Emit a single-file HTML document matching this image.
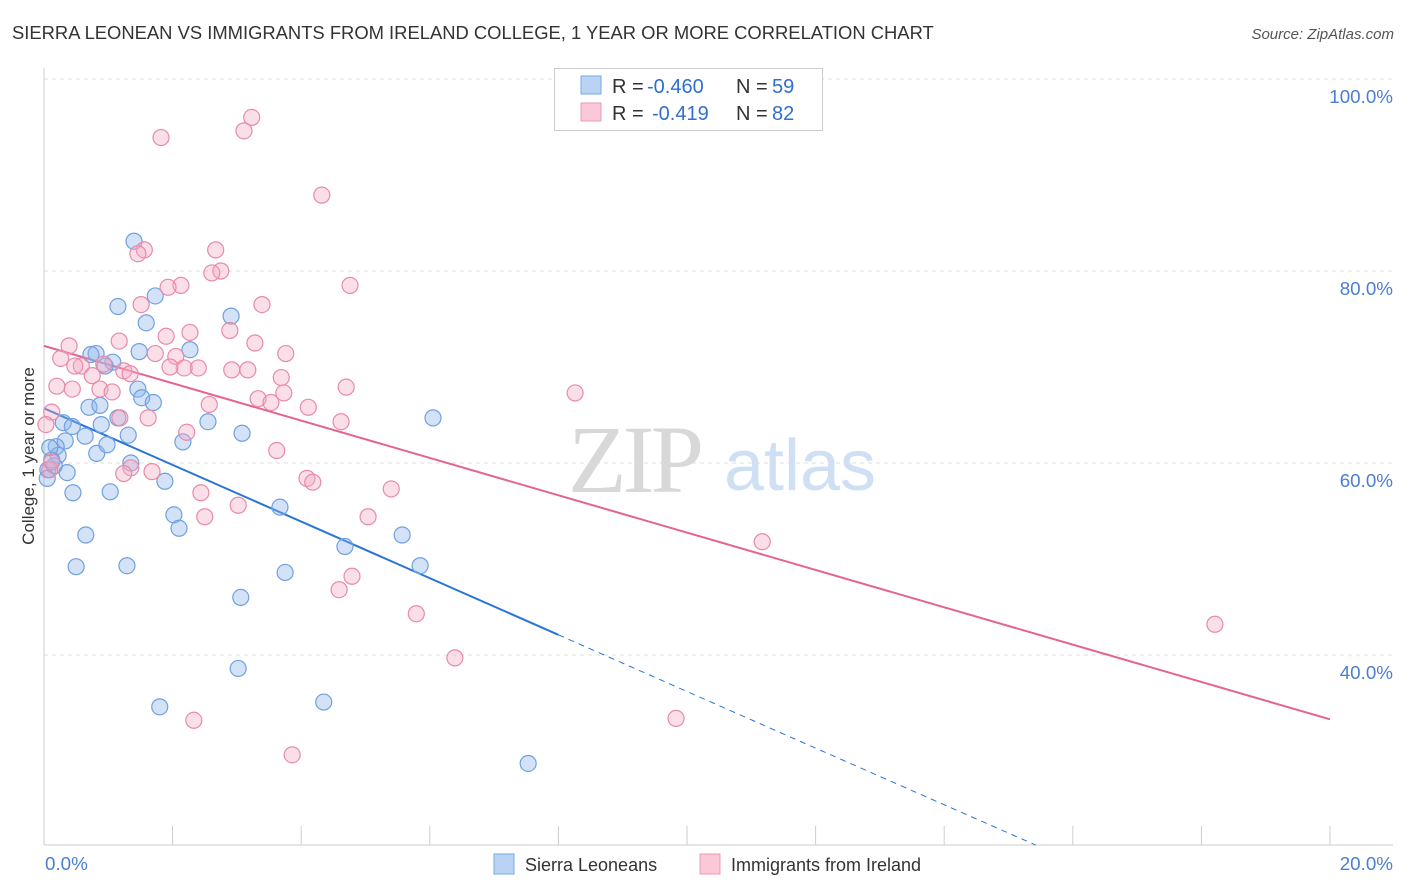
<!DOCTYPE html>
<html><head><meta charset="utf-8"><style>
body{margin:0;background:#fff;font-family:"Liberation Sans",sans-serif;}
svg{display:block}
</style></head><body>
<svg id="chart" width="1406" height="892" xmlns="http://www.w3.org/2000/svg">
<text x="12" y="39" font-size="18.4" fill="#333">SIERRA LEONEAN VS IMMIGRANTS FROM IRELAND COLLEGE, 1 YEAR OR MORE CORRELATION CHART</text>
<text x="1394" y="39" font-size="15" fill="#555" font-style="italic" text-anchor="end">Source: ZipAtlas.com</text>
<g>
<text x="634" y="492" font-size="96" font-family="Liberation Serif,serif" fill="#d8d8d8" text-anchor="middle" letter-spacing="-4">ZIP</text>
<text x="800" y="490" font-size="72" fill="#cfe0f5" text-anchor="middle">atlas</text>
</g>
<g id="grid"></g>
<g id="axes"></g>
<g id="lines"></g>
<g id="points"></g>
<text transform="translate(34,456) rotate(-90)" font-size="17" fill="#333" text-anchor="middle">College, 1 year or more</text>
<g>
<rect x="554.5" y="68.5" width="268" height="62" fill="#fff" stroke="#ccc"/>
<rect x="581" y="76" width="20" height="18" fill="#b9d3f5" stroke="#7aa8e3"/>
<rect x="581" y="103" width="20" height="18" fill="#fbc8d8" stroke="#ec98b4"/>
<text x="612" y="93" font-size="20" fill="#333">R = <tspan x="647" fill="#2f6fd0">-0.460</tspan><tspan x="736">N = </tspan><tspan x="772" fill="#2f6fd0">59</tspan></text>
<text x="612" y="120" font-size="20" fill="#333">R = <tspan x="652" fill="#2f6fd0">-0.419</tspan><tspan x="736">N = </tspan><tspan x="772" fill="#2f6fd0">82</tspan></text>
</g>
<g>
<rect x="494" y="854" width="20" height="20" fill="#b9d3f5" stroke="#7aa8e3"/>
<text x="525" y="871" font-size="18" fill="#333">Sierra Leoneans</text>
<rect x="700" y="854" width="20" height="20" fill="#fbc8d8" stroke="#ec98b4"/>
<text x="731" y="871" font-size="18" fill="#333">Immigrants from Ireland</text>
</g>
</svg>
<script>
const xTicks=[0,2,4,6,8,10,12,14,16,18,20];
const yTicks=[40,60,80,100];
const yTickLabels=["40.0%","60.0%","80.0%","100.0%"];
const xLabels=["0.0%","20.0%"];
const blueX=[1.40,1.73,1.15,1.59,2.91,0.81,0.73,1.48,2.27,1.07,0.95,1.46,1.52,1.70,0.70,0.87,1.15,0.30,0.44,0.64,0.33,0.89,1.31,2.16,2.55,3.08,6.05,0.19,0.82,0.98,0.22,0.06,0.16,0.36,1.35,1.88,0.45,1.03,2.02,2.10,3.67,0.65,4.68,5.57,5.85,0.50,1.29,3.75,3.06,3.02,1.80,4.35,7.53,0.05,0.12,0.09];
const blueY=[83.1,77.4,76.3,74.6,75.3,71.4,71.3,71.6,71.8,70.5,70.1,67.7,66.8,66.3,65.8,66.0,64.7,64.2,63.8,62.8,62.3,64.0,62.9,62.2,64.3,63.1,64.7,61.7,61.0,61.9,60.8,59.3,59.7,59.0,60.0,58.1,56.9,57.0,54.6,53.2,55.4,52.5,51.3,52.5,49.3,49.2,49.3,48.6,46.0,38.6,34.6,35.1,28.7,58.4,60.3,61.6];
const pinkX=[3.23,3.11,1.82,4.32,2.67,1.56,1.46,2.75,2.61,4.76,2.13,1.93,3.39,1.51,2.27,1.90,2.89,1.17,3.28,0.39,1.73,2.05,3.76,0.26,0.58,0.48,0.93,1.24,2.40,2.18,2.92,3.17,1.96,0.75,0.20,0.44,0.87,1.06,1.34,3.69,3.73,3.33,3.53,4.70,8.26,2.57,4.11,1.18,1.62,4.62,0.12,0.03,2.22,3.62,1.35,1.68,1.24,4.09,4.18,5.40,2.44,3.02,2.50,5.04,11.17,4.79,4.59,5.79,18.21,6.39,9.83,2.33,3.86,0.09,0.12];
const pinkY=[96.0,94.6,93.9,87.9,82.2,82.2,81.8,80.0,79.8,78.5,78.5,78.3,76.5,76.5,73.6,73.2,73.8,72.7,72.5,72.2,71.4,71.1,71.4,70.9,70.1,70.1,70.3,69.6,69.9,69.9,69.7,69.7,70.0,69.1,68.0,67.7,67.7,67.4,69.3,68.9,67.3,66.7,66.3,67.9,67.3,66.1,65.8,64.7,64.7,64.3,65.3,64.0,63.2,61.3,59.5,59.1,58.9,58.4,58.0,57.3,56.9,55.6,54.4,54.4,51.8,48.2,46.8,44.3,43.2,39.7,33.4,33.2,29.6,59.3,60.1];
const blueFit=[65.7,-2.95];
const pinkFit=[72.2,-1.945];
const NS="http://www.w3.org/2000/svg";
const sx=v=>44+v*64.3;
const sy=v=>79+(100-v)*9.6;
function mk(t,a,p){const e=document.createElementNS(NS,t);for(const k in a)e.setAttribute(k,a[k]);p.appendChild(e);return e;}
const grid=document.getElementById('grid'),axes=document.getElementById('axes'),lines=document.getElementById('lines'),pts=document.getElementById('points');
yTicks.forEach((t,i)=>{
 const l=mk('line',{x1:44,x2:1393,y1:sy(t),y2:sy(t),stroke:'#ddd','stroke-dasharray':'4,4'},grid);
 
 
 const tx=mk('text',{x:1393,y:sy(t)+24,'font-size':18.8,fill:'#4a7fd0','text-anchor':'end'},axes);
 tx.textContent=yTickLabels[i];
 
 
});
const ya=mk('line',{x1:44,x2:44,y1:68,y2:845,stroke:'#ccc'},axes);


const xa=mk('line',{x1:44,x2:1393,y1:845,y2:845,stroke:'#ccc'},axes);


xTicks.forEach(t=>{
 const l=mk('line',{x1:sx(t),x2:sx(t),y1:826,y2:845,stroke:'#ccc'},axes);
 
 
});
[[0,'start',45],[20,'end',1393]].forEach((d,i)=>{
 const tx=mk('text',{x:d[2],y:870,'font-size':18.8,fill:'#4a7fd0','text-anchor':d[1]},axes);
 tx.textContent=xLabels[i];
 
 
});
const f=(fit,x)=>fit[0]+fit[1]*x;
let b1=mk('line',{x1:sx(0),y1:sy(f(blueFit,0)),x2:sx(8),y2:sy(f(blueFit,8)),stroke:'#2a74d6','stroke-width':2},lines);


const xEnd=(20.2-blueFit[0])/blueFit[1];
let b2=mk('line',{x1:sx(8),y1:sy(f(blueFit,8)),x2:sx(xEnd),y2:sy(f(blueFit,xEnd)),stroke:'#2a74d6','stroke-width':1,'stroke-dasharray':'6,5'},lines);


let p1=mk('line',{x1:sx(0),y1:sy(f(pinkFit,0)),x2:sx(20),y2:sy(f(pinkFit,20)),stroke:'#e4648f','stroke-width':2},lines);


blueX.forEach((x,i)=>{
 const c=mk('circle',{cx:sx(x),cy:sy(blueY[i]),r:8,fill:'rgba(140,180,235,0.38)',stroke:'#6fa1e0','stroke-width':1.2},pts);
 
 
});
pinkX.forEach((x,i)=>{
 const c=mk('circle',{cx:sx(x),cy:sy(pinkY[i]),r:8,fill:'rgba(245,170,195,0.38)',stroke:'#e88aa8','stroke-width':1.2},pts);
 
 
});
</script>
</body></html>
